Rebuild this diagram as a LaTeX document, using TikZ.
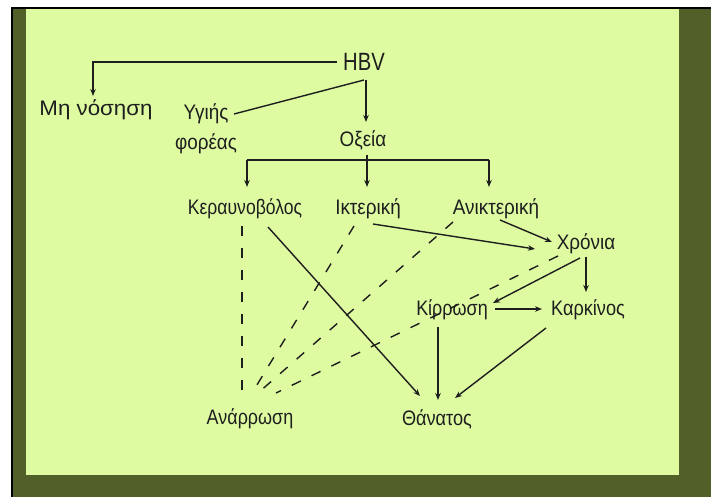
\documentclass[tikz,border=0pt]{standalone}
\usepackage{fontspec}
\setmainfont[FakeStretch=0.9]{Liberation Sans}
\usetikzlibrary{arrows.meta}
\definecolor{bgl}{RGB}{222,251,162}
\definecolor{bgd}{RGB}{80,96,40}
\definecolor{ink}{RGB}{30,30,30}
\begin{document}
\begin{tikzpicture}[x=1pt,y=-1pt,
  lbl/.style={anchor=base, inner sep=0pt, font=\fontsize{21}{30}\selectfont, text=ink},
  ln/.style={line width=1.4pt, draw=ink},
  arr/.style={ln, -{Stealth[length=7pt,width=5.5pt]}},
  dsh/.style={line width=1.4pt, draw=ink, dash pattern=on 10pt off 12pt}]
% frame
\fill[white] (0,0) rectangle (711,497);
\useasboundingbox (0,0) rectangle (711,497);
\fill[bgd] (13,9) rectangle (711,497);
\fill[bgl] (26,9) rectangle (679,475);
\fill[black] (11,7) rectangle (711,9.5);
\fill[black] (11,7) rectangle (13,497);
% nodes
\node[lbl, font=\fontsize{25}{27}\selectfont] (hbv) at (364,71) {\scalebox{0.9}[1]{HBV}};
\node[lbl] (mh) at (96,116) {\scalebox{1.18}[1]{Μη νόσηση}};
\node[lbl, anchor=center, align=center] (yf) at (206,129) {Υγιής\\φορέας};
\node[lbl] (ox) at (363,147) {Οξεία};
\node[lbl] (ker) at (245,214) {\scalebox{0.93}[1]{Κεραυνοβόλος}};
\node[lbl] (ikt) at (368,214) {Ικτερική};
\node[lbl] (anikt) at (496,214) {Ανικτερική};
\node[lbl] (chr) at (586,249) {Χρόνια};
\node[lbl] (kir) at (452,315) {\scalebox{0.95}[1]{Κίρρωση}};
\node[lbl] (kark) at (588,315) {\scalebox{0.96}[1]{Καρκίνος}};
\node[lbl] (anar) at (250,424) {\scalebox{0.95}[1]{Ανάρρωση}};
\node[lbl] (than) at (437,425) {\scalebox{0.96}[1]{Θάνατος}};
% connector end points
\coordinate (hbvL) at (337,62);
\coordinate (mhN) at (93,96);
\coordinate (hbvS) at (364,80);
\coordinate (hbvS2) at (366,80);
\coordinate (yfE) at (234,114);
\coordinate (oxN) at (366,122);
\coordinate (oxS) at (367,155);
\coordinate (barL) at (247,160);
\coordinate (barR) at (489,160);
\coordinate (kerN) at (247,187);
\coordinate (iktN) at (367,187);
\coordinate (aniktN) at (489,187);
\coordinate (kerS) at (242,226);
\coordinate (kerSE) at (268,227);
\coordinate (iktSW) at (354,226);
\coordinate (iktSE) at (373,224);
\coordinate (aniktSW) at (453,222);
\coordinate (aniktSE) at (500,220);
\coordinate (chrW) at (535,249);
\coordinate (chrNW) at (552,242);
\coordinate (chrSW) at (558,256);
\coordinate (chrS1) at (580,258);
\coordinate (chrS2) at (586,257);
\coordinate (kirNE) at (493,303);
\coordinate (kirE) at (495,309);
\coordinate (kirS) at (438,327);
\coordinate (karkN) at (586,292);
\coordinate (karkW) at (542,309);
\coordinate (karkSW) at (546,328);
\coordinate (anarA) at (242,393);
\coordinate (anarB) at (252,393);
\coordinate (anarC) at (258,393);
\coordinate (anarD) at (276,393);
\coordinate (thanNW) at (420,396);
\coordinate (thanN) at (438,400);
\coordinate (thanNE) at (455,398);
% connectors
\draw[arr] (hbvL) -| (mhN);
\draw[ln] (hbvS) -- (yfE);
\draw[arr] (hbvS2) -- (oxN);
\draw[arr] (oxS) -- (iktN);
\draw[ln] (barL) -- (barR);
\draw[arr] (barL) -- (kerN);
\draw[arr] (barR) -- (aniktN);
\draw[dsh] (kerS) -- (anarA);
\draw[dsh] (iktSW) -- (anarB);
\draw[dsh] (aniktSW) -- (anarC);
\draw[dsh] (chrSW) -- (anarD);
\draw[arr] (kerSE) -- (thanNW);
\draw[arr] (iktSE) -- (chrW);
\draw[arr] (aniktSE) -- (chrNW);
\draw[arr] (chrS1) -- (kirNE);
\draw[arr] (chrS2) -- (karkN);
\draw[arr] (kirE) -- (karkW);
\draw[arr] (kirS) -- (thanN);
\draw[arr] (karkSW) -- (thanNE);
\end{tikzpicture}
\end{document}
